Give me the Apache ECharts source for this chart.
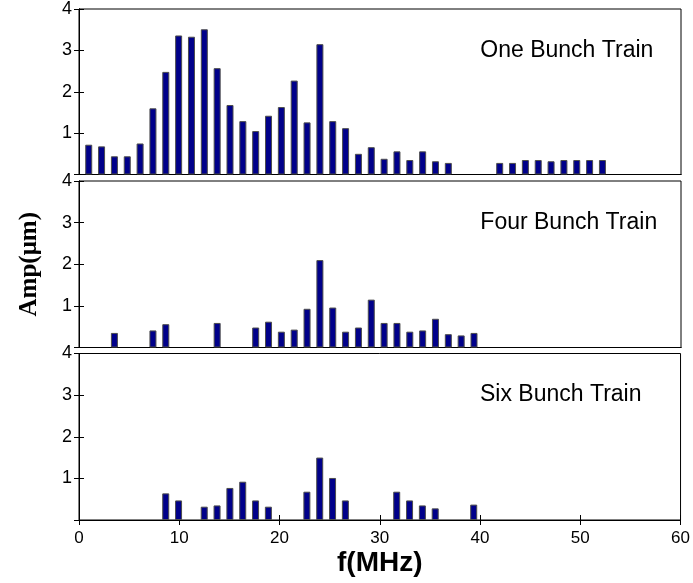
<!DOCTYPE html>
<html>
<head>
<meta charset="utf-8">
<script src="https://cdn.jsdelivr.net/npm/echarts@6/dist/echarts.min.js"></script>
<style>
  html, body { margin: 0; padding: 0; background: #fff; }
  #chart { width: 693px; height: 583px; }
</style>
</head>
<body>
<div id="chart"></div>
<script>
// Spectrum amplitudes (µm) at each harmonic frequency (MHz)
const oneFreq = [0.97, 2.25, 3.53, 4.81, 6.09, 7.37, 8.65, 9.93, 11.21, 12.49, 13.77, 15.05, 16.33, 17.61,
  18.89, 20.17, 21.45, 22.73, 24.01, 25.29, 26.57, 27.85, 29.13, 30.41, 31.69, 32.97, 34.25, 35.53, 36.81,
  41.93, 43.21, 44.49, 45.77, 47.05, 48.33, 49.61, 50.89, 52.17];
const oneAmp = [0.72, 0.68, 0.44, 0.44, 0.75, 1.60, 2.48, 3.36, 3.33, 3.51, 2.57, 1.68, 1.29, 1.05,
  1.42, 1.63, 2.27, 1.26, 3.15, 1.29, 1.12, 0.50, 0.66, 0.38, 0.56, 0.35, 0.56, 0.32, 0.28,
  0.28, 0.28, 0.35, 0.35, 0.32, 0.35, 0.35, 0.35, 0.35];

const fourFreq = [3.53, 7.37, 8.65, 13.77, 17.61, 18.89, 20.17, 21.45, 22.73, 24.01, 25.29, 26.57,
  27.85, 29.13, 30.41, 31.69, 32.97, 34.25, 35.53, 36.81, 38.09, 39.37];
const fourAmp = [0.35, 0.41, 0.56, 0.59, 0.48, 0.62, 0.38, 0.43, 0.93, 2.10, 0.96, 0.38,
  0.48, 1.15, 0.59, 0.59, 0.38, 0.41, 0.69, 0.32, 0.29, 0.35];

const sixFreq = [8.65, 9.93, 12.49, 13.77, 15.05, 16.33, 17.61, 18.89, 22.73, 24.01, 25.29, 26.57,
  31.69, 32.97, 34.25, 35.53, 39.37];
const sixAmp = [0.64, 0.47, 0.32, 0.35, 0.77, 0.92, 0.47, 0.32, 0.68, 1.50, 1.01, 0.47,
  0.68, 0.47, 0.35, 0.28, 0.37];

const panelNames = ['One Bunch Train', 'Four Bunch Train', 'Six Bunch Train'];
const xTicks = [0, 10, 20, 30, 40, 50, 60];
const yTicks = [0, 1, 2, 3, 4];

const SANS = "'Liberation Sans', Arial, Helvetica, sans-serif";
const SERIF = "'Liberation Serif', 'Times New Roman', serif";

const panels = [
  { freq: oneFreq, amp: oneAmp },
  { freq: fourFreq, amp: fourAmp },
  { freq: sixFreq, amp: sixAmp }
];

const gridTops = [8, 181, 353.5];
const gridH = 166.5;
const LEFT = 79, RIGHT = 12;

const grids = [], xAxes = [], yAxes = [], series = [], graphics = [];

panels.forEach((p, i) => {
  const last = i === panels.length - 1;
  grids.push({
    left: LEFT, right: RIGHT, top: gridTops[i], height: gridH,
    show: true, borderColor: '#000', borderWidth: 1, backgroundColor: '#fff'
  });
  // bottom x axis
  xAxes.push({
    gridIndex: i, type: 'value', position: 'bottom',
    min: xTicks[0], max: xTicks[xTicks.length - 1], interval: 10,
    axisLine: { show: true, lineStyle: { color: '#000', width: 1 } },
    axisTick: { show: last, inside: true, length: 5, lineStyle: { color: '#000' } },
    axisLabel: { show: last, margin: 10, fontSize: 17, color: '#000', fontFamily: SANS },
    splitLine: { show: false },
    name: last ? 'f(MHz)' : '',
    nameLocation: 'middle', nameGap: 29,
    nameTextStyle: { fontSize: 28, fontWeight: 'bold', color: '#000', fontFamily: SANS }
  });
  // top x axis (ticks mirrored on the boxed bottom panel)
  xAxes.push({
    gridIndex: i, type: 'value', position: 'top',
    min: xTicks[0], max: xTicks[xTicks.length - 1], interval: 10,
    axisLine: { show: true, lineStyle: { color: '#000', width: 1 } },
    axisTick: { show: last, inside: true, length: 5, lineStyle: { color: '#000' } },
    axisLabel: { show: false },
    splitLine: { show: false }
  });
  // left y axis
  yAxes.push({
    gridIndex: i, type: 'value', position: 'left',
    min: yTicks[0], max: yTicks[yTicks.length - 1], interval: 1,
    axisLine: { show: true, lineStyle: { color: '#000', width: 1 } },
    axisTick: { show: true, inside: true, length: 5, lineStyle: { color: '#000' } },
    axisLabel: {
      show: true, margin: 7, fontSize: 18, color: '#000', fontFamily: SANS,
      formatter: v => (v === 0 ? '' : String(v))
    },
    splitLine: { show: false },
    name: i === 1 ? 'Amp(μm)' : '',
    nameLocation: 'middle', nameGap: 37, nameRotate: 90,
    nameTextStyle: { fontSize: 25, fontWeight: 'bold', color: '#000', fontFamily: SERIF }
  });
  // right y axis (mirrored ticks)
  yAxes.push({
    gridIndex: i, type: 'value', position: 'right',
    min: yTicks[0], max: yTicks[yTicks.length - 1], interval: 1,
    axisLine: { show: true, lineStyle: { color: '#000', width: 1 } },
    axisTick: { show: true, inside: true, length: 5, lineStyle: { color: '#000' } },
    axisLabel: { show: false },
    splitLine: { show: false }
  });

  series.push({
    type: 'bar', name: panelNames[i],
    xAxisIndex: i * 2, yAxisIndex: i * 2,
    barWidth: 7,
    itemStyle: { color: '#00008a', borderColor: '#4d4d4d', borderWidth: 1 },
    data: p.freq.map((f, k) => [f, p.amp[k]]),
    silent: true
  });
});

const chart = echarts.init(document.getElementById('chart'), null, { renderer: 'canvas' });
chart.setOption({
  animation: false,
  backgroundColor: '#fff',
  grid: grids,
  xAxis: xAxes,
  yAxis: yAxes,
  series: series
});

// Panel captions, anchored at (40 MHz, 3 µm) in each panel
panelNames.forEach((name, i) => {
  const pt = chart.convertToPixel({ xAxisIndex: i * 2, yAxisIndex: i * 2 }, [40, 3]);
  graphics.push({
    type: 'text', x: pt[0], y: pt[1],
    style: {
      text: name, fill: '#000', font: '23px ' + SANS,
      textAlign: 'left', textVerticalAlign: 'middle'
    }
  });
});
chart.setOption({ graphic: graphics });
</script>
</body>
</html>
